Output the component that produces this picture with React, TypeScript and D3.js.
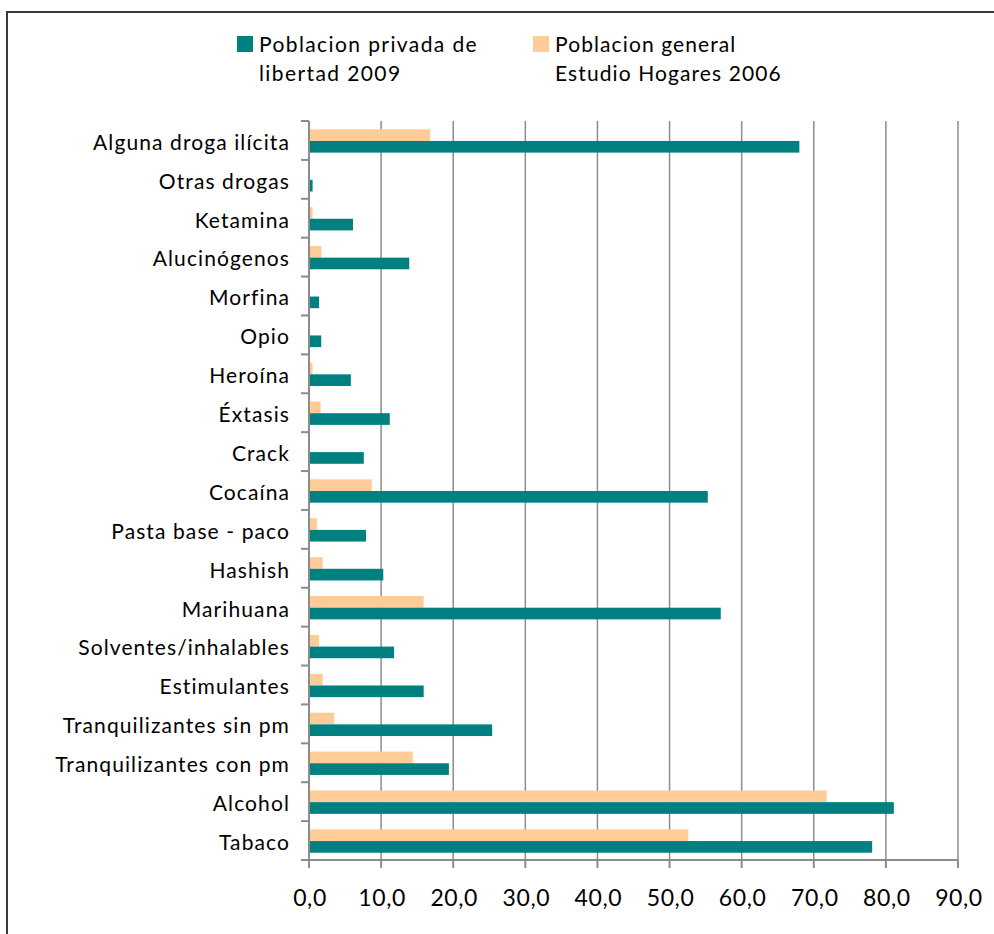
import React from "react";
import * as d3 from "d3";

const categories = [
  "Alguna droga ilícita",
  "Otras drogas",
  "Ketamina",
  "Alucinógenos",
  "Morfina",
  "Opio",
  "Heroína",
  "Éxtasis",
  "Crack",
  "Cocaína",
  "Pasta base - paco",
  "Hashish",
  "Marihuana",
  "Solventes/inhalables",
  "Estimulantes",
  "Tranquilizantes sin pm",
  "Tranquilizantes con pm",
  "Alcohol",
  "Tabaco",
];

const privada2009 = [68.0, 0.5, 6.1, 13.9, 1.4, 1.7, 5.8, 11.2, 7.6, 55.3, 7.9, 10.3, 57.1, 11.8, 15.9, 25.4, 19.4, 81.1, 78.1];
const general2006 = [16.8, 0, 0.5, 1.7, 0, 0, 0.5, 1.6, 0, 8.7, 1.1, 1.9, 15.9, 1.4, 1.9, 3.5, 14.4, 71.8, 52.6];

const xTicks = [0, 10, 20, 30, 40, 50, 60, 70, 80, 90];
const seriesNames = [
  ["Poblacion privada de", "libertad 2009"],
  ["Poblacion general", "Estudio Hogares 2006"],
];

const TEAL = "#008080";
const PEACH = "#FFCC99";
const FONT = "Lato, 'Open Sans', sans-serif";

export default function App() {
  const W = 994;
  const H = 934;
  const left = 309;
  const right = 958;
  const top = 121;
  const bottom = 860;

  const x = d3.scaleLinear().domain([0, 90]).range([left, right]);
  const y = d3.scaleBand<string>().domain(categories).range([top, bottom]).padding(0);
  const bw = y.bandwidth();
  const barH = bw * 0.3;
  const off = (bw - 2 * barH) / 2 + 0.5;
  const fmt = (v: number) => v.toFixed(1).replace(".", ",");
  const ls = 1.1;

  return (
    <svg
      width={W}
      height={H}
      style={{ position: "absolute", left: 0, top: 0, background: "#fff" }}
      fontFamily={FONT}
    >
      <rect x={0} y={0} width={W} height={H} fill="#fff" />
      <rect x={7} y={12} width={W + 20} height={H + 20} fill="none" stroke="#3a3a3a" strokeWidth={2} />

      {/* gridlines */}
      {xTicks.slice(1).map((t) => (
        <line key={"g" + t} x1={x(t)} x2={x(t)} y1={top} y2={bottom} stroke="#8c8c8c" strokeWidth={1.5} />
      ))}

      {/* bars */}
      {categories.map((c, i) => (
        <g key={c}>
          {general2006[i] > 0 && (
            <rect x={x(0)} y={(y(c) as number) + off} width={x(general2006[i]) - x(0)} height={barH} fill={PEACH} />
          )}
          <rect x={x(0)} y={(y(c) as number) + off + barH} width={x(privada2009[i]) - x(0)} height={barH} fill={TEAL} />
        </g>
      ))}

      {/* y axis */}
      <line x1={left} x2={left} y1={top} y2={bottom} stroke="#8c8c8c" strokeWidth={2} />
      {categories.map((c) => (
        <line key={"yt" + c} x1={left - 8} x2={left} y1={y(c) as number} y2={y(c) as number} stroke="#8c8c8c" strokeWidth={2} />
      ))}
      <line x1={left - 8} x2={left} y1={bottom} y2={bottom} stroke="#8c8c8c" strokeWidth={2} />
      {categories.map((c) => (
        <text
          key={"yl" + c}
          x={left - 19}
          y={(y(c) as number) + bw / 2 + 2}
          dy="0.35em"
          textAnchor="end"
          fontSize={21}
          letterSpacing={ls}
          fill="#000"
        >
          {c}
        </text>
      ))}

      {/* x axis */}
      <line x1={left} x2={right} y1={bottom} y2={bottom} stroke="#8c8c8c" strokeWidth={2} />
      {xTicks.map((t) => (
        <line key={"xt" + t} x1={x(t)} x2={x(t)} y1={bottom} y2={bottom + 8} stroke="#8c8c8c" strokeWidth={2} />
      ))}
      {xTicks.map((t) => (
        <text key={"xl" + t} x={x(t) + 1} y={898} dy="0.35em" textAnchor="middle" fontSize={23} letterSpacing={0.6} fill="#000">
          {fmt(t)}
        </text>
      ))}

      {/* legend */}
      <rect x={237} y={36} width={16} height={16} fill={TEAL} />
      <text x={259} y={45} dy="0.35em" fontSize={21} letterSpacing={1.4}>{seriesNames[0][0]}</text>
      <text x={259} y={74} dy="0.35em" fontSize={21} letterSpacing={1.4}>{seriesNames[0][1]}</text>
      <rect x={533} y={36} width={16} height={16} fill={PEACH} />
      <text x={555} y={45} dy="0.35em" fontSize={21} letterSpacing={ls}>{seriesNames[1][0]}</text>
      <text x={555} y={74} dy="0.35em" fontSize={21} letterSpacing={ls}>{seriesNames[1][1]}</text>
    </svg>
  );
}
